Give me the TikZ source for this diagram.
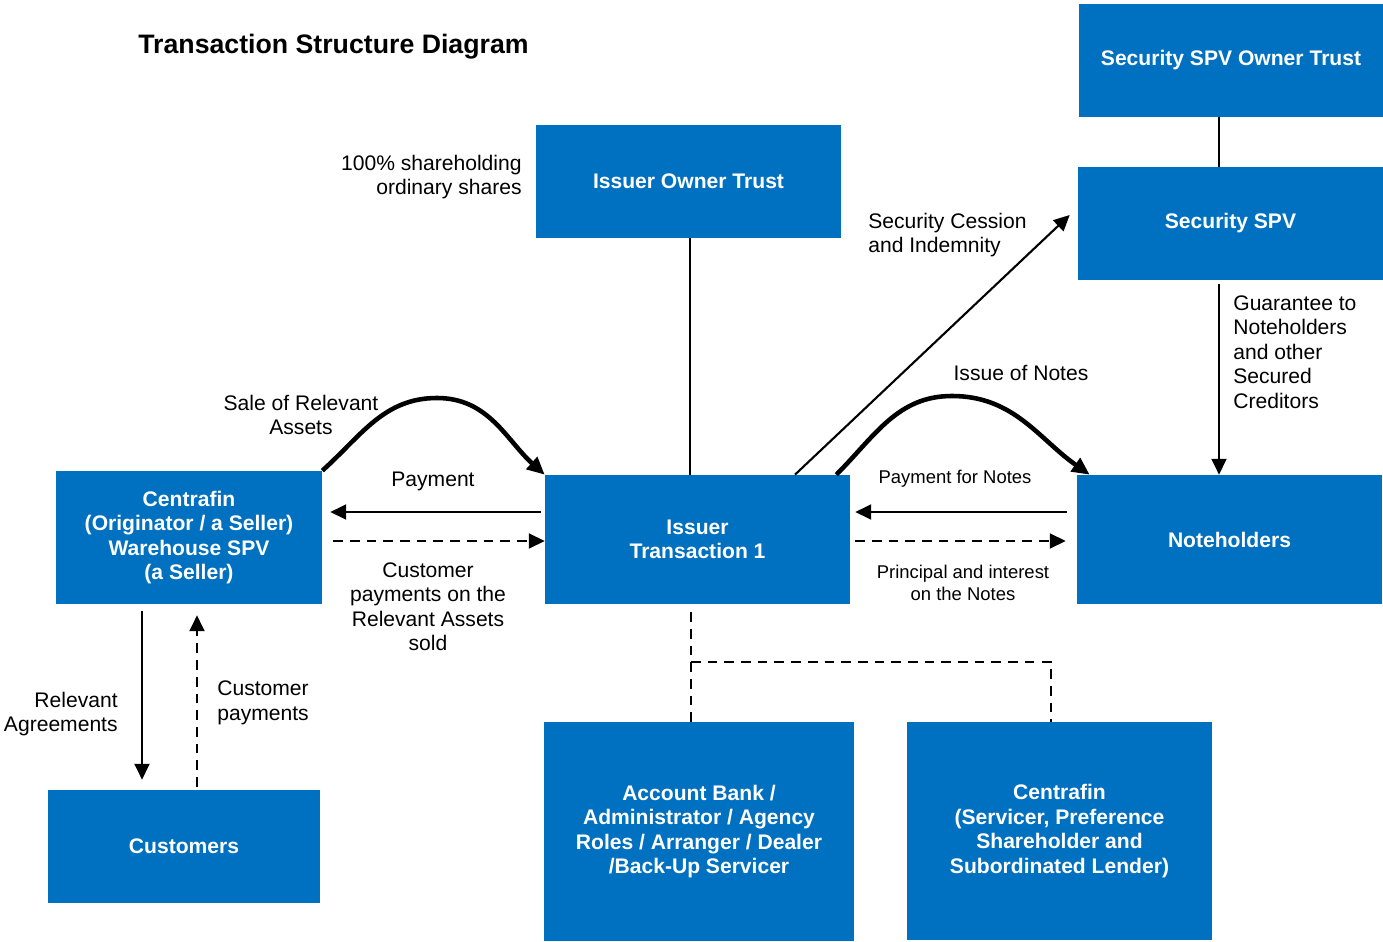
\documentclass[tikz,border=0pt]{standalone}
\usepackage{fontspec}
\setmainfont{Liberation Sans}
\usetikzlibrary{arrows.meta}
\definecolor{boxblue}{HTML}{0070C0}

\tikzset{
  box/.style={fill=boxblue, text=white, font=\fontsize{12}{14}\selectfont\bfseries, align=center, inner sep=0pt},
  lbl/.style={font=\fontsize{12}{14}\selectfont, inner sep=0pt},
  smalllbl/.style={font=\fontsize{10.5}{12.8}\selectfont, inner sep=0pt, align=center},
  arr/.style={line width=1.2pt, -{Triangle[length=9pt,width=8.5pt]}},
  dasharr/.style={arr, dash pattern=on 5.5pt off 4pt},
  dashline/.style={line width=1.3pt, dash pattern=on 5.5pt off 4pt},
  flow/.style={line width=2.6pt, -{Triangle[length=10pt,width=9pt]}},
}

\begin{document}
\begin{tikzpicture}[x=0.02cm, y=-0.02cm]
\useasboundingbox (0,0) rectangle (1383,942);

% title
\node[anchor=west, font=\fontsize{15.2}{18}\selectfont\bfseries, inner sep=0pt] (title) at (138,47) {Transaction Structure Diagram};

% boxes
\node[box, minimum width=6.08cm, minimum height=2.26cm] (sotrust) at (1231,60.5) {Security SPV Owner Trust};
\node[box, minimum width=6.1cm, minimum height=2.26cm] (sspv) at (1230.5,223.5) {Security SPV};
\node[box, minimum width=6.1cm, minimum height=2.26cm] (iotrust) at (688.5,181.5) {Issuer Owner Trust};
\node[box, minimum width=5.32cm, minimum height=2.66cm] (centrafin) at (189,537.5) {Centrafin\\(Originator / a Seller)\\Warehouse SPV\\(a Seller)};
\node[box, minimum width=6.1cm, minimum height=2.58cm] (issuer) at (697.5,539.5) {Issuer\\Transaction 1};
\node[box, minimum width=6.1cm, minimum height=2.58cm] (notes) at (1229.5,539.5) {Noteholders};
\node[box, minimum width=5.44cm, minimum height=2.26cm] (customers) at (184,846.5) {Customers};
\node[box, minimum width=6.2cm, minimum height=4.38cm] (account) at (699,831.5) {Account Bank /\\Administrator / Agency\\Roles / Arranger / Dealer\\/Back-Up Servicer};
\node[box, minimum width=6.1cm, minimum height=4.36cm] (servicer) at (1059.5,831) {Centrafin\\(Servicer, Preference\\Shareholder and\\Subordinated Lender)};

% labels
\node[lbl, align=right, anchor=east] (shlbl) at (522,177) {100\% shareholding\\ordinary shares};
\node[lbl, align=left, anchor=west] (seclbl) at (868,235) {Security Cession\\and Indemnity};
\node[lbl, align=left, anchor=north west] (guarlbl) at (1233,295) {Guarantee to\\Noteholders\\and other\\Secured\\Creditors};
\node[lbl] (issuelbl) at (1021,373) {Issue of Notes};
\node[lbl, align=center] (salelbl) at (301,415) {Sale of Relevant\\Assets};
\node[lbl] (paylbl) at (433,481) {Payment};
\node[lbl, align=center, anchor=north] (custpaylbl) at (428,562) {Customer\\payments on the\\Relevant Assets\\sold};
\node[smalllbl] (pfnlbl) at (955,479) {Payment for Notes};
\node[smalllbl] (pilbl) at (963,583) {Principal and interest\\on the Notes};
\node[lbl, align=right, anchor=east] (agrlbl) at (118,714) {Relevant\\Agreements};
\node[lbl, align=left, anchor=west] (cplbl) at (217,703) {Customer\\payments};

% owner trusts
\draw[line width=1.2pt] ([xshift=-0.24cm]sotrust.south) -- ([xshift=-0.24cm]sotrust.south |- sspv.north);
\draw[line width=1.2pt] ([xshift=0.03cm]iotrust.south) -- ([xshift=0.03cm]iotrust.south |- issuer.north);

% security
\draw[arr] ([xshift=-0.23cm,yshift=-0.08cm]sspv.south) -- ([xshift=-0.23cm]sspv.south |- notes.north);
\draw[arr] ([xshift=1.95cm]issuer.north) -- ([xshift=-0.16cm,yshift=0.17cm]sspv.west);

% sale and notes
\coordinate (salepeak) at (437,398);
\draw[flow] (centrafin.north east) to[out=42,in=180] (salepeak) to[out=0,in=138] (issuer.north west);
\coordinate (notespeak) at (952,396);
\draw[flow] ([xshift=-0.28cm]issuer.north east) to[out=45,in=180] (notespeak) to[out=0,in=145] ([xshift=0.26cm]notes.north west);

% payments
\draw[arr] ([xshift=-0.08cm,yshift=0.55cm]issuer.west) -- ([xshift=0.16cm,yshift=0.55cm]issuer.west -| centrafin.east);
\draw[dasharr] ([xshift=0.22cm,yshift=-0.03cm]issuer.west -| centrafin.east) -- ([yshift=-0.03cm]issuer.west);
\draw[arr] ([xshift=-0.2cm,yshift=0.55cm]notes.west) -- ([xshift=0.1cm,yshift=0.55cm]issuer.east);
\draw[dasharr] ([xshift=0.1cm,yshift=-0.03cm]issuer.east) -- ([xshift=-0.22cm,yshift=-0.03cm]notes.west);

% customers
\draw[arr] ([xshift=-0.94cm,yshift=-0.14cm]centrafin.south) -- ([xshift=-0.94cm,yshift=0.2cm]centrafin.south |- customers.north);
\draw[dasharr] ([xshift=0.16cm,yshift=0.06cm]centrafin.south |- customers.north) -- ([xshift=0.16cm,yshift=-0.22cm]centrafin.south);

% service providers
\coordinate (jn) at (691,662);
\draw[dashline] ([xshift=-0.13cm,yshift=-0.16cm]issuer.south) -- ([xshift=-0.13cm]issuer.south |- account.north);
\draw[dashline] (jn) -| ([xshift=-0.17cm]servicer.north);
\end{tikzpicture}
\end{document}
